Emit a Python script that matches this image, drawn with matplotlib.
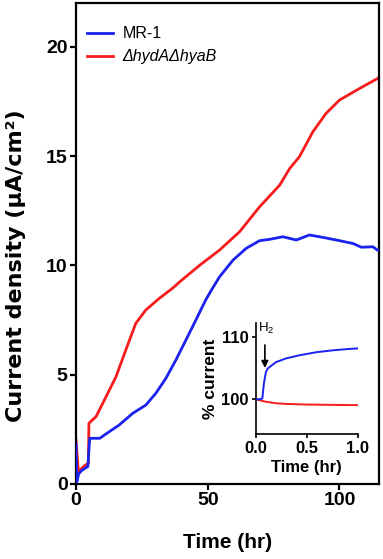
import matplotlib
matplotlib.use("Agg")
import matplotlib.pyplot as plt

plt.rcParams['font.family'] = ['Liberation Sans', 'DejaVu Sans']
plt.rcParams['mathtext.fontset'] = 'custom'
plt.rcParams['mathtext.rm'] = 'Liberation Sans'
plt.rcParams['mathtext.it'] = 'Liberation Sans:italic'
plt.rcParams['mathtext.bf'] = 'Liberation Sans:bold'

# Main panel data
mr1_t = [0, 0.3, 1, 2, 3.4, 4.5, 5.2, 7, 9, 12.6, 16.4, 21.5, 26.5, 30.3, 34.1, 37.9, 41.7,
         45.5, 49.2, 51.4, 54.5, 59.6, 64.6, 69.7, 73.5, 78.5, 83.6, 88.6, 93.7, 100,
         105.1, 108.3, 112.7, 114.5, 115]
mr1_v = [1.8, 0.1, 0.46, 0.6, 0.72, 0.8, 2.09, 2.09, 2.09, 2.39, 2.7, 3.23, 3.61, 4.15, 4.83,
         5.67, 6.58, 7.5, 8.41, 8.87, 9.48, 10.24, 10.78, 11.13, 11.19, 11.31, 11.16, 11.39,
         11.28, 11.13, 11.0, 10.83, 10.85, 10.69, 10.7]

mut_t = [0, 0.9, 2, 3.4, 4.7, 4.9, 7.6, 11.4, 15.2, 18.9, 22.7, 26.5, 31.6, 36.6, 39.4, 41.7,
         47, 54.5, 62.1, 69.7, 77.3, 81.1, 84.8, 89.9, 94.9, 100, 107.6, 114.5, 115]
mut_v = [2.0, 0.56, 0.7, 0.85, 0.95, 2.78, 3.08, 3.99, 4.91, 6.13, 7.35, 7.96, 8.49, 8.95, 9.25,
         9.48, 10.01, 10.7, 11.54, 12.68, 13.67, 14.43, 14.97, 16.11, 16.95, 17.56, 18.09,
         18.55, 18.6]

# Inset data
in_mr1_t = [0, 0.03, 0.065, 0.08, 0.1, 0.12, 0.2, 0.3, 0.43, 0.6, 0.76, 0.9, 1.0]
in_mr1_v = [100, 100, 100.1, 102.5, 104.4, 105.0, 106.0, 106.6, 107.1, 107.6, 107.9, 108.1, 108.2]
in_mut_t = [0, 0.1, 0.2, 0.3, 0.5, 0.75, 1.0]
in_mut_v = [100, 99.6, 99.35, 99.25, 99.15, 99.1, 99.05]

BLUE = '#1a22f0'
RED = '#f41c1c'

fig = plt.figure(figsize=(3.83, 5.59), dpi=100)
ax = fig.add_axes([76/383, 1-484/559, (379-76)/383, (484-3)/559])
ax.plot(mr1_t, mr1_v, color=BLUE, lw=2.0, label='MR-1', zorder=3)
ax.plot(mut_t, mut_v, color=RED, lw=2.0, label='ΔhydAΔhyaB', zorder=2)
ax.set_xlim(0, 115)
ax.set_ylim(0, 22)
ax.set_xticks([0, 50, 100])
ax.set_yticks([0, 5, 10, 15, 20])
for s in ax.spines.values():
    s.set_linewidth(1.6)
ax.tick_params(direction='out', length=4, width=1.6, labelsize=14, pad=2)
for lab in ax.get_xticklabels() + ax.get_yticklabels():
    lab.set_fontweight('bold')
ax.set_xlabel('Time (hr)', fontsize=15, fontweight='bold', labelpad=17)
ax.set_ylabel('Current density (µA/cm²)', fontsize=16, fontweight='bold',
              family='DejaVu Sans')
ax.yaxis.set_label_coords(-0.165, 0.453)

leg = ax.legend(loc='upper left', frameon=False, fontsize=11.5, handlelength=1.6,
                handletextpad=0.6, borderaxespad=0.3, labelspacing=0.5,
                bbox_to_anchor=(0.0, 0.975))
leg.get_texts()[1].set_fontstyle('italic')

# Inset
ins = fig.add_axes([255.7/383, 1-434/559, (357.7-255.7)/383, (434-323)/559])
ins.plot(in_mr1_t, in_mr1_v, color=BLUE, lw=1.4, zorder=3)
ins.plot(in_mut_t, in_mut_v, color=RED, lw=1.4, zorder=2)
ins.set_xlim(0, 1.0)
ins.set_ylim(94.4, 112.3)
ins.set_xticks([0, 0.5, 1.0])
ins.set_xticklabels(['0.0', '0.5', '1.0'])
ins.set_yticks([100, 110])
ins.spines['top'].set_visible(False)
ins.spines['right'].set_visible(False)
for s in ins.spines.values():
    s.set_linewidth(1.2)
ins.tick_params(direction='out', length=3, width=1.2, labelsize=12, pad=2)
for lab in ins.get_xticklabels() + ins.get_yticklabels():
    lab.set_fontweight('bold')
ins.set_xlabel('Time (hr)', fontsize=12, fontweight='bold', labelpad=3)
ins.set_ylabel('% current', fontsize=12.5, fontweight='bold', labelpad=2)
ins.patch.set_alpha(0)
ins.annotate('', xy=(0.09, 104.6), xytext=(0.09, 109.2),
             arrowprops=dict(arrowstyle='-|>', color='black', lw=1.2, mutation_scale=10))
ins.text(0.02, 110.2, r'H$_2$', fontsize=9.5, ha='left', va='bottom')

fig.savefig('out.png', dpi=100)
